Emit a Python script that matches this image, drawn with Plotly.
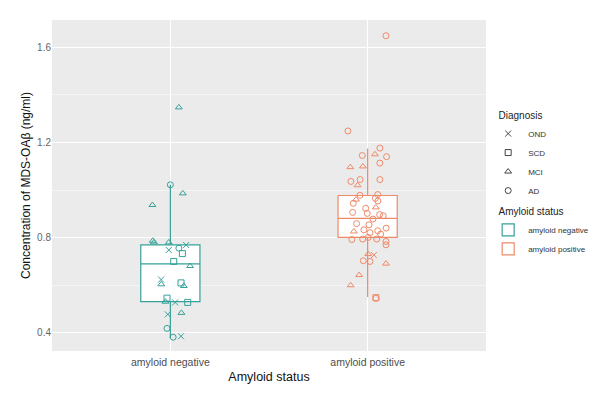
import plotly.graph_objects as go

categories = ["amyloid negative", "amyloid positive"]
diagnoses = ["OND", "SCD", "MCI", "AD"]
diag_symbols = {"OND": "x-thin-open", "SCD": "square-open", "MCI": "triangle-up-open", "AD": "circle-open"}
colors = {"amyloid negative": "#36A198", "amyloid positive": "#EE8A68"}

# box statistics
q1 = [0.531, 0.801]
median = [0.690, 0.881]
q3 = [0.770, 0.977]
lowerfence = [0.379, 0.551]
upperfence = [1.022, 1.174]

# amyloid negative points
neg_values = [1.347, 1.022, 0.986, 0.937, 0.787, 0.780, 0.780, 0.769, 0.756, 0.748, 0.733, 0.700, 0.681,
              0.624, 0.604, 0.610, 0.597, 0.546, 0.531, 0.528, 0.528, 0.478, 0.484, 0.419, 0.382, 0.386]
neg_diag = ["MCI", "AD", "MCI", "MCI", "MCI", "MCI", "MCI", "OND", "AD", "OND", "SCD", "SCD", "MCI",
            "OND", "MCI", "SCD", "MCI", "SCD", "MCI", "OND", "SCD", "OND", "MCI", "AD", "AD", "OND"]
neg_jitter = [0.043, 0.0, 0.063, -0.091, -0.089, -0.083, -0.008, 0.080, 0.043, -0.008, 0.061, 0.017, 0.100,
              -0.047, -0.046, 0.054, 0.068, -0.017, -0.025, 0.024, 0.088, -0.013, 0.056, -0.017, 0.014, 0.054]

# amyloid positive points
pos_values = [1.648, 1.248, 1.176, 1.145, 1.150, 1.140, 1.113, 1.096, 1.099, 1.044, 1.036, 1.020, 1.044,
              0.978, 0.981, 0.965, 0.954, 0.960, 0.944, 0.927, 0.923, 0.906, 0.902, 0.897, 0.892, 0.878,
              0.859, 0.854, 0.840, 0.833, 0.829, 0.826, 0.821, 0.815, 0.792, 0.794, 0.801, 0.794, 0.784,
              0.770, 0.731, 0.727, 0.703, 0.700, 0.691, 0.643, 0.600, 0.548, 0.545]
pos_diag = ["AD", "AD", "AD", "AD", "MCI", "AD", "AD", "MCI", "MCI", "AD", "AD", "MCI", "AD",
            "AD", "AD", "AD", "AD", "MCI", "AD", "MCI", "AD", "AD", "AD", "AD", "AD", "AD",
            "AD", "AD", "AD", "AD", "AD", "MCI", "AD", "AD", "AD", "AD", "AD", "AD", "AD",
            "AD", "MCI", "OND", "AD", "AD", "MCI", "MCI", "MCI", "SCD", "AD"]
pos_jitter = [0.093, -0.100, 0.062, -0.027, 0.037, 0.096, 0.062, -0.088, -0.024, -0.038, -0.085, -0.051, 0.062,
              -0.039, 0.051, 0.039, 0.052, -0.059, -0.073, 0.042, -0.010, -0.076, -0.002, 0.061, 0.079, 0.027,
              -0.056, 0.007, 0.094, -0.019, 0.051, -0.070, 0.012, 0.066, -0.080, -0.025, 0.003, 0.046, 0.093,
              0.093, 0.003, 0.032, -0.022, 0.012, 0.093, -0.043, -0.086, 0.042, 0.042]

y_ticks = [0.4, 0.8, 1.2, 1.6]

fig = go.Figure()

# boxes
for i, cat in enumerate(categories):
    fig.add_trace(go.Box(
        x=[i + 1], q1=[q1[i]], median=[median[i]], q3=[q3[i]],
        lowerfence=[lowerfence[i]], upperfence=[upperfence[i]],
        width=0.3, whiskerwidth=0, boxpoints=False,
        fillcolor="white", line=dict(color=colors[cat], width=1.2),
        name=cat, legend="legend2", showlegend=True, hoverinfo="skip",
    ))

# points
groups = [(categories[0], neg_values, neg_diag, neg_jitter), (categories[1], pos_values, pos_diag, pos_jitter)]
for gi, (cat, vals, diags, jit) in enumerate(groups):
    for d in diagnoses:
        idx = [k for k in range(len(vals)) if diags[k] == d]
        if not idx:
            continue
        fig.add_trace(go.Scatter(
            x=[gi + 1 + jit[k] for k in idx], y=[vals[k] for k in idx],
            mode="markers",
            marker=dict(symbol=diag_symbols[d], size=6, color=colors[cat],
                        line=dict(color=colors[cat], width=1)),
            showlegend=False, hoverinfo="skip",
        ))

# diagnosis legend entries
for d in diagnoses:
    fig.add_trace(go.Scatter(
        x=[None], y=[None], mode="markers", name=d,
        marker=dict(symbol=diag_symbols[d], size=6, color="#444444",
                    line=dict(color="#444444", width=1)),
        legend="legend",
    ))

# page body adds an 8px offset, so the figure is 592x388
fig.update_layout(
    width=592, height=388,
    margin=dict(l=44, r=114, t=12, b=45, autoexpand=False),
    paper_bgcolor="white", plot_bgcolor="#EBEBEB",
    font=dict(family="Liberation Sans, Arial, sans-serif", color="#4D4D4D"),
    xaxis=dict(
        range=[0.4, 2.6], tickvals=[1, 2], ticktext=categories,
        showgrid=True, gridcolor="white", gridwidth=1, zeroline=False,
        ticks="", tickfont=dict(size=10.5, color="#4D4D4D"), ticklabelstandoff=3,
        title=dict(text="Amyloid status", font=dict(size=12.5, color="#111111"), standoff=5),
    ),
    yaxis=dict(
        range=[0.324, 1.714], tickvals=y_ticks, ticktext=[f"{v:.1f}" for v in y_ticks],
        showgrid=True, gridcolor="white", gridwidth=1.1, zeroline=False,
        minor=dict(dtick=0.2, tick0=0.2, showgrid=True, gridcolor="#F5F5F5", gridwidth=0.6),
        ticks="", tickfont=dict(size=10, color="#666666"),
        title=dict(text="Concentration of MDS-OA\u03b2 (ng/ml)", font=dict(size=12, color="#111111"), standoff=3),
    ),
    legend=dict(
        x=1.005, y=0.740, xanchor="left", yanchor="top", itemwidth=30,
        title=dict(text="\u00a0\u00a0\u00a0Diagnosis", font=dict(size=10, color="#222222")),
        font=dict(size=8, color="#333333"), bgcolor="rgba(0,0,0,0)", tracegroupgap=0,
    ),
    legend2=dict(
        x=1.005, y=0.449, xanchor="left", yanchor="top", itemwidth=30,
        title=dict(text="\u00a0\u00a0\u00a0Amyloid status", font=dict(size=10, color="#222222")),
        font=dict(size=8, color="#333333"), bgcolor="rgba(0,0,0,0)", tracegroupgap=0,
    ),
)

fig.write_html("out.html")
